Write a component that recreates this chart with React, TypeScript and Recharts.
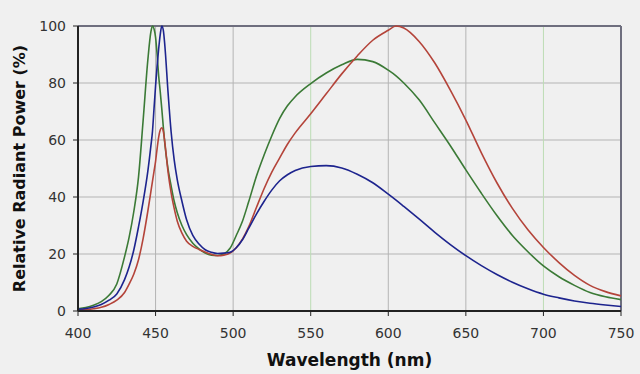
import {
  LineChart,
  Line,
  XAxis,
  YAxis,
  CartesianGrid,
  ReferenceLine,
} from 'recharts';

const wavelengths = [
  400, 405, 410, 415, 420, 425, 430, 433, 436, 439, 442, 445, 447, 448, 449, 450, 451, 452, 453, 454,
  455, 456, 458, 460, 462, 464, 467, 470, 474, 478, 482, 486, 490, 494, 498, 502, 506, 510, 515, 520,
  525, 530, 535, 540, 550, 560, 570, 580, 590, 600, 605, 610, 620, 630, 640, 650, 660, 670, 680, 690,
  700, 710, 720, 730, 740, 750,
];

const greenLed = [
  0.8, 1.2, 2, 3.3, 5.5, 9.5, 19, 26, 35, 47, 67, 88, 98, 100, 99, 96, 90, 82.5, 77, 71,
  64.5, 58.5, 50, 44, 38.5, 34.5, 30, 26.8, 23.8, 21.8, 20.3, 19.6, 19.5, 20, 22, 26.5, 31.5, 38.3, 47.3, 54.8,
  61.6, 67.6, 72, 75.2, 79.8, 83.5, 86.4, 88.3, 87.5, 84.5, 82.5, 80, 74, 66, 58, 49.5, 41.3, 33.5, 26.5, 20.8,
  15.8, 12, 9, 6.5, 5, 4,
];

const blueLed = [
  0.6, 0.9, 1.4, 2.3, 3.8, 6, 11, 15.5, 21.5, 29.5, 38.5, 49, 58, 63, 71, 79, 86, 92, 97, 100,
  98.5, 93, 77, 63, 53, 46, 38.5, 32, 26.5, 23.5, 21.5, 20.6, 20.2, 20.3, 20.6, 22.2, 25, 29, 34, 38.5,
  42.5, 45.7, 47.8, 49.3, 50.7, 51, 50.2, 48, 45, 41, 38.9, 36.7, 32.2, 27.6, 23.3, 19.4, 15.9, 12.8, 10.1, 7.8,
  5.9, 4.6, 3.5, 2.7, 2.1, 1.6,
];

const redLed = [
  0.3, 0.5, 0.8, 1.3, 2.3, 3.8, 6.5, 9.5, 13, 18, 25.5, 35, 42, 45.5, 49, 52.5, 57, 61, 63.5, 64.3,
  63, 59, 49, 41.5, 36, 31.5, 27.3, 24.5, 22.7, 21.6, 20.7, 19.9, 19.4, 19.6, 20.3, 22.2, 25.2, 29.5, 36.3, 43,
  48.8, 53.7, 58.5, 62.5, 69.2, 76.2, 83.2, 89.5, 95, 98.5, 100, 99.3, 94.5, 87, 77.5, 67, 55.5, 45, 36, 28.5,
  22.3, 17, 12.5, 9, 6.8, 5.3,
];

const xTicks = [400, 450, 500, 550, 600, 650, 700, 750];
const yTicks = [0, 20, 40, 60, 80, 100];
const greenGridX = [550, 700];

const data = wavelengths.map((wl, i) => ({
  wl,
  green: greenLed[i],
  blue: blueLed[i],
  red: redLed[i],
}));

const font = '"DejaVu Sans", Verdana, sans-serif';

export default function App() {
  return (
    <div style={{ position: 'fixed', left: 0, top: 0, width: 640, height: 374, background: '#f0f0f0' }}>
      <LineChart width={640} height={374} data={data} margin={{ top: 26, right: 19, left: 0, bottom: 0 }}>
        <CartesianGrid vertical={false} stroke="#b4b4b4" strokeWidth={1} />
        {xTicks.slice(1, -1).map((x) => (
          <ReferenceLine
            key={x}
            x={x}
            stroke={greenGridX.includes(x) ? '#bcdcb4' : '#b4b4b4'}
            strokeWidth={1}
          />
        ))}
        <ReferenceLine y={100} stroke="#6e6e7e" strokeWidth={2} />
        <ReferenceLine x={750} stroke="#6e6e7e" strokeWidth={2} />
        <XAxis
          dataKey="wl"
          type="number"
          domain={[400, 750]}
          ticks={xTicks}
          height={63}
          axisLine={{ stroke: '#222', strokeWidth: 2 }}
          tickLine={{ stroke: '#222' }}
          tickSize={5}
          tick={{ fontSize: 14, fill: '#333', fontFamily: font, dy: 10 }}
          label={{
            value: 'Wavelength (nm)',
            position: 'insideBottom',
            offset: 8,
            style: { fontSize: 17, fontWeight: 'bold', fill: '#111', fontFamily: font },
          }}
        />
        <YAxis
          type="number"
          domain={[0, 100]}
          ticks={yTicks}
          width={78}
          axisLine={{ stroke: '#222', strokeWidth: 2 }}
          tickLine={{ stroke: '#222' }}
          tickSize={5}
          tick={{ fontSize: 14, fill: '#333', fontFamily: font, dx: -5 }}
          label={{
            value: 'Relative Radiant Power (%)',
            angle: -90,
            position: 'insideLeft',
            offset: 19,
            style: { textAnchor: 'middle', fontSize: 16, fontWeight: 'bold', fill: '#111', fontFamily: font },
          }}
        />
        <Line type="monotone" dataKey="green" stroke="#3b7a36" strokeWidth={1.6} dot={false} isAnimationActive={false} />
        <Line type="monotone" dataKey="red" stroke="#b4443a" strokeWidth={1.6} dot={false} isAnimationActive={false} />
        <Line type="monotone" dataKey="blue" stroke="#1d248e" strokeWidth={1.6} dot={false} isAnimationActive={false} />
      </LineChart>
    </div>
  );
}
